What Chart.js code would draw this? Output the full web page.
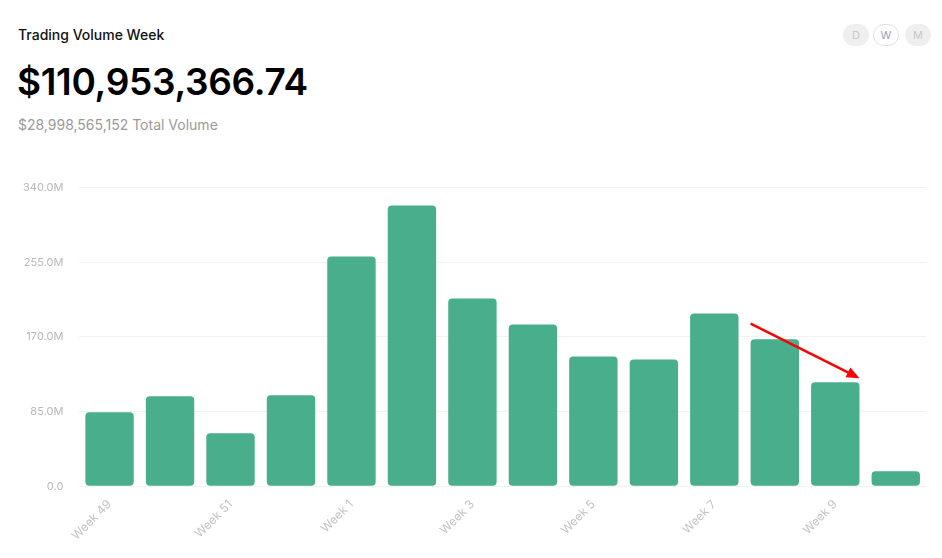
<!DOCTYPE html>
<html>
<head>
<meta charset="utf-8">
<script src="https://cdn.jsdelivr.net/npm/chart.js@4.4.0/dist/chart.umd.min.js"></script>
<style>
  html, body { margin: 0; padding: 0; background: #fff; font-family: Inter, "Noto Sans", sans-serif; }
  #page { position: relative; width: 942px; height: 558px; overflow: hidden; }
  #title { position: absolute; left: 18px; top: 26px; font-size: 14px; font-weight: 500; color: #111; }
  #big { position: absolute; left: 17px; top: 59px; font-size: 37px; font-weight: 600; color: #000; letter-spacing: -0.3px; }
  #sub { position: absolute; left: 18px; top: 116px; font-size: 14px; color: #9a9a9a; }
  .btn { position: absolute; top: 24px; width: 26px; height: 22px; border-radius: 11px; font-size: 11px; line-height: 22px; text-align: center; color: #c8c8c8; background: #efefef; box-sizing: border-box; }
  .btn.on { background: #fff; border: 1px solid #e2e2e2; line-height: 20px; color: #9aa0b4; }
  #wrap { position: absolute; left: 0; top: 165px; width: 942px; height: 385px; }
</style>
</head>
<body>
<div id="page">
  <div id="title">Trading Volume Week</div>
  <div id="big">$110,953,366.74</div>
  <div id="sub">$28,998,565,152 Total Volume</div>
  <div class="btn" style="left:843px">D</div>
  <div class="btn on" style="left:873px">W</div>
  <div class="btn" style="left:905px">M</div>
  <div id="wrap"><canvas id="volChart"></canvas></div>
</div>
<script>
const weeks = ['Week 49', 'Week 50', 'Week 51', 'Week 52', 'Week 1', 'Week 2', 'Week 3',
  'Week 4', 'Week 5', 'Week 6', 'Week 7', 'Week 8', 'Week 9', 'Week 10'];
const volumes = [84.1, 102.3, 60.3, 103.5, 261.5, 319.5, 213.8,
  184.2, 147.8, 144.4, 196.7, 167.2, 118.3, 17.0].map(v => v * 1e6);
const yTicks = [0, 85e6, 170e6, 255e6, 340e6];
// arrow: from left side of Week 8 down to right side of Week 9
const arrowFrom = {index: 11, side: -1, value: 185e6};
const arrowTo = {index: 12, side: 1, value: 123e6};

const arrowPlugin = {
  id: 'arrow',
  afterDatasetsDraw(chart) {
    const {ctx, scales: {x, y}} = chart;
    const half = x.width / weeks.length * 0.4;
    const x1 = x.getPixelForValue(arrowFrom.index) + arrowFrom.side * half;
    const y1 = y.getPixelForValue(arrowFrom.value);
    const x2 = x.getPixelForValue(arrowTo.index) + arrowTo.side * half;
    const y2 = y.getPixelForValue(arrowTo.value);
    const ang = Math.atan2(y2 - y1, x2 - x1);
    ctx.save();
    ctx.strokeStyle = '#f00';
    ctx.fillStyle = '#f00';
    ctx.lineWidth = 2.5;
    ctx.beginPath();
    ctx.moveTo(x1, y1);
    ctx.lineTo(x2 - 8 * Math.cos(ang), y2 - 8 * Math.sin(ang));
    ctx.stroke();
    ctx.beginPath();
    ctx.moveTo(x2, y2);
    ctx.lineTo(x2 - 14 * Math.cos(ang - 0.4), y2 - 14 * Math.sin(ang - 0.4));
    ctx.lineTo(x2 - 14 * Math.cos(ang + 0.4), y2 - 14 * Math.sin(ang + 0.4));
    ctx.closePath();
    ctx.fill();
    ctx.restore();
  }
};

new Chart(document.getElementById('volChart'), {
  type: 'bar',
  data: {
    labels: weeks,
    datasets: [{
      data: volumes,
      backgroundColor: '#48ae8c',
      borderRadius: 4,
      borderSkipped: false,
      barPercentage: 1,
      categoryPercentage: 0.8
    }]
  },
  options: {
    responsive: true,
    maintainAspectRatio: false,
    animation: false,
    layout: {padding: {top: 10, right: 16, left: 7, bottom: 4}},
    plugins: {legend: {display: false}, tooltip: {enabled: false}},
    scales: {
      x: {
        grid: {display: false},
        border: {display: false},
        ticks: {
          color: '#c4c4c4',
          font: {family: 'Inter', size: 12},
          maxRotation: 45,
          minRotation: 45,
          autoSkip: true,
          callback: function (v, i) { return i % 2 === 0 ? weeks[i] : ''; }
        }
      },
      y: {
        min: 0,
        max: 340e6,
        afterBuildTicks: axis => { axis.ticks = yTicks.map(v => ({value: v})); },
        grid: {color: '#f2f2f2', drawTicks: false},
        border: {display: false},
        ticks: {
          color: '#b8b8b8',
          font: {family: 'Inter', size: 11},
          padding: 16,
          callback: v => v === 0 ? '0.0' : (v / 1e6).toFixed(1) + 'M'
        }
      }
    }
  },
  plugins: [arrowPlugin]
});
</script>
</body>
</html>
